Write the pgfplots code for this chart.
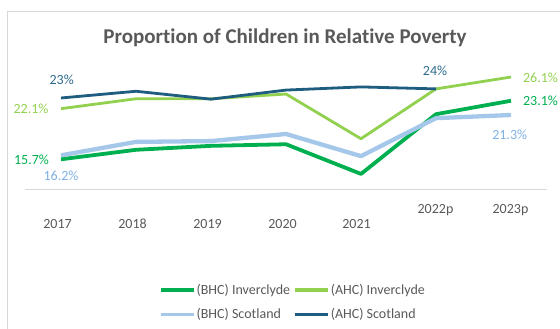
\documentclass[border=0pt]{standalone}
\usepackage{pgfplots}
\pgfplotsset{compat=1.18}
\usepackage{fontspec}
\setmainfont{Carlito}[Ligatures=NoCommon]
\definecolor{bhcinv}{HTML}{00B050}
\definecolor{ahcinv}{HTML}{92D050}
\definecolor{bhcsco}{HTML}{A5C8EA}
\definecolor{ahcsco}{HTML}{1E5C80}
\definecolor{ahcscotxt}{HTML}{2E6A8C}
\definecolor{bhcscotxt}{HTML}{7FB0E2}
\definecolor{txtgray}{HTML}{595959}
\definecolor{framegray}{HTML}{D9D9D9}
\begin{document}
\begin{tikzpicture}
\useasboundingbox (0,0) rectangle (560bp,329bp);
% frame
\draw[framegray, line width=1bp] (7.3bp,0bp) -- (7.3bp,317.4bp) -- (560bp,317.4bp);
% title
\node[anchor=base, font=\fontsize{21bp}{24bp}\selectfont\bfseries, text=txtgray, inner sep=0pt] at (285bp,285.7bp) {Proportion of Children in Relative Poverty};
\begin{axis}[
  at={(25bp,139.5bp)}, anchor=south west,
  scale only axis, width=522bp, height=127.5bp,
  xmin=-0.48, xmax=6.48, ymin=11.88, ymax=28,
  hide axis, clip=false,
  legend columns=2,
  legend style={draw=none, fill=none, inner sep=0pt, outer sep=0pt,
    at={(axis description cs:0.2567,-0.884)}, anchor=west,
    font=\fontsize{14bp}{16bp}\selectfont, text=txtgray,
    nodes={inner sep=0pt, text=txtgray},
    column sep=1bp, row sep=12.5bp,
    /tikz/every even column/.append style={column sep=3bp}},
  legend cell align=left,
  legend image code/.code={\draw[#1, line width=3.6bp, line cap=butt] (0bp,0bp) -- (33bp,0bp);},
]
\draw[framegray, line width=1bp] (rel axis cs:0,0) -- (rel axis cs:1,0);
\addplot[bhcinv, line width=3.8bp, line join=round] coordinates {(0,15.7)(1,16.9)(2,17.4)(3,17.6)(4,13.85)(5,21.4)(6,23.1)};
\addlegendentry{(BHC) Inverclyde}
\addplot[ahcinv, line width=2.8bp, line join=round] coordinates {(0,22.1)(1,23.35)(2,23.35)(3,23.95)(4,18.3)(5,24.6)(6,26.1)};
\addlegendentry{(AHC) Inverclyde}
\addplot[bhcsco, line width=4.3bp, line join=round] coordinates {(0,16.2)(1,17.9)(2,18.0)(3,18.9)(4,16.1)(5,20.9)(6,21.3)};
\addlegendentry{(BHC) Scotland}
\addplot[ahcsco, line width=2.8bp, line join=round] coordinates {(0,23.45)(1,24.3)(2,23.3)(3,24.45)(4,24.85)(5,24.6)};
\addlegendentry{(AHC) Scotland}
\end{axis}
% data labels
\begin{scope}[every node/.style={anchor=base, inner sep=0pt, font=\fontsize{14bp}{16bp}\selectfont}]
\node[text=ahcscotxt] at (61.7bp,244.5bp) {23\%};
\node[text=ahcinv] at (31bp,215.2bp) {22.1\%};
\node[text=bhcinv] at (31.5bp,164.5bp) {15.7\%};
\node[text=bhcscotxt] at (61bp,148.5bp) {16.2\%};
\node[text=ahcscotxt] at (435bp,253.8bp) {24\%};
\node[text=ahcinv] at (540.5bp,246.8bp) {26.1\%};
\node[text=bhcinv] at (540.5bp,223.8bp) {23.1\%};
\node[text=bhcscotxt] at (509.7bp,189.5bp) {21.3\%};
% x labels
\node[text=txtgray] at (57.5bp,100.2bp) {2017};
\node[text=txtgray] at (132.5bp,100.2bp) {2018};
\node[text=txtgray] at (207.5bp,100.2bp) {2019};
\node[text=txtgray] at (282.5bp,100.2bp) {2020};
\node[text=txtgray] at (356.5bp,100.2bp) {2021};
\node[text=txtgray] at (435.5bp,115.5bp) {2022p};
\node[text=txtgray] at (510.5bp,115.5bp) {2023p};
\end{scope}
\end{tikzpicture}
\end{document}
